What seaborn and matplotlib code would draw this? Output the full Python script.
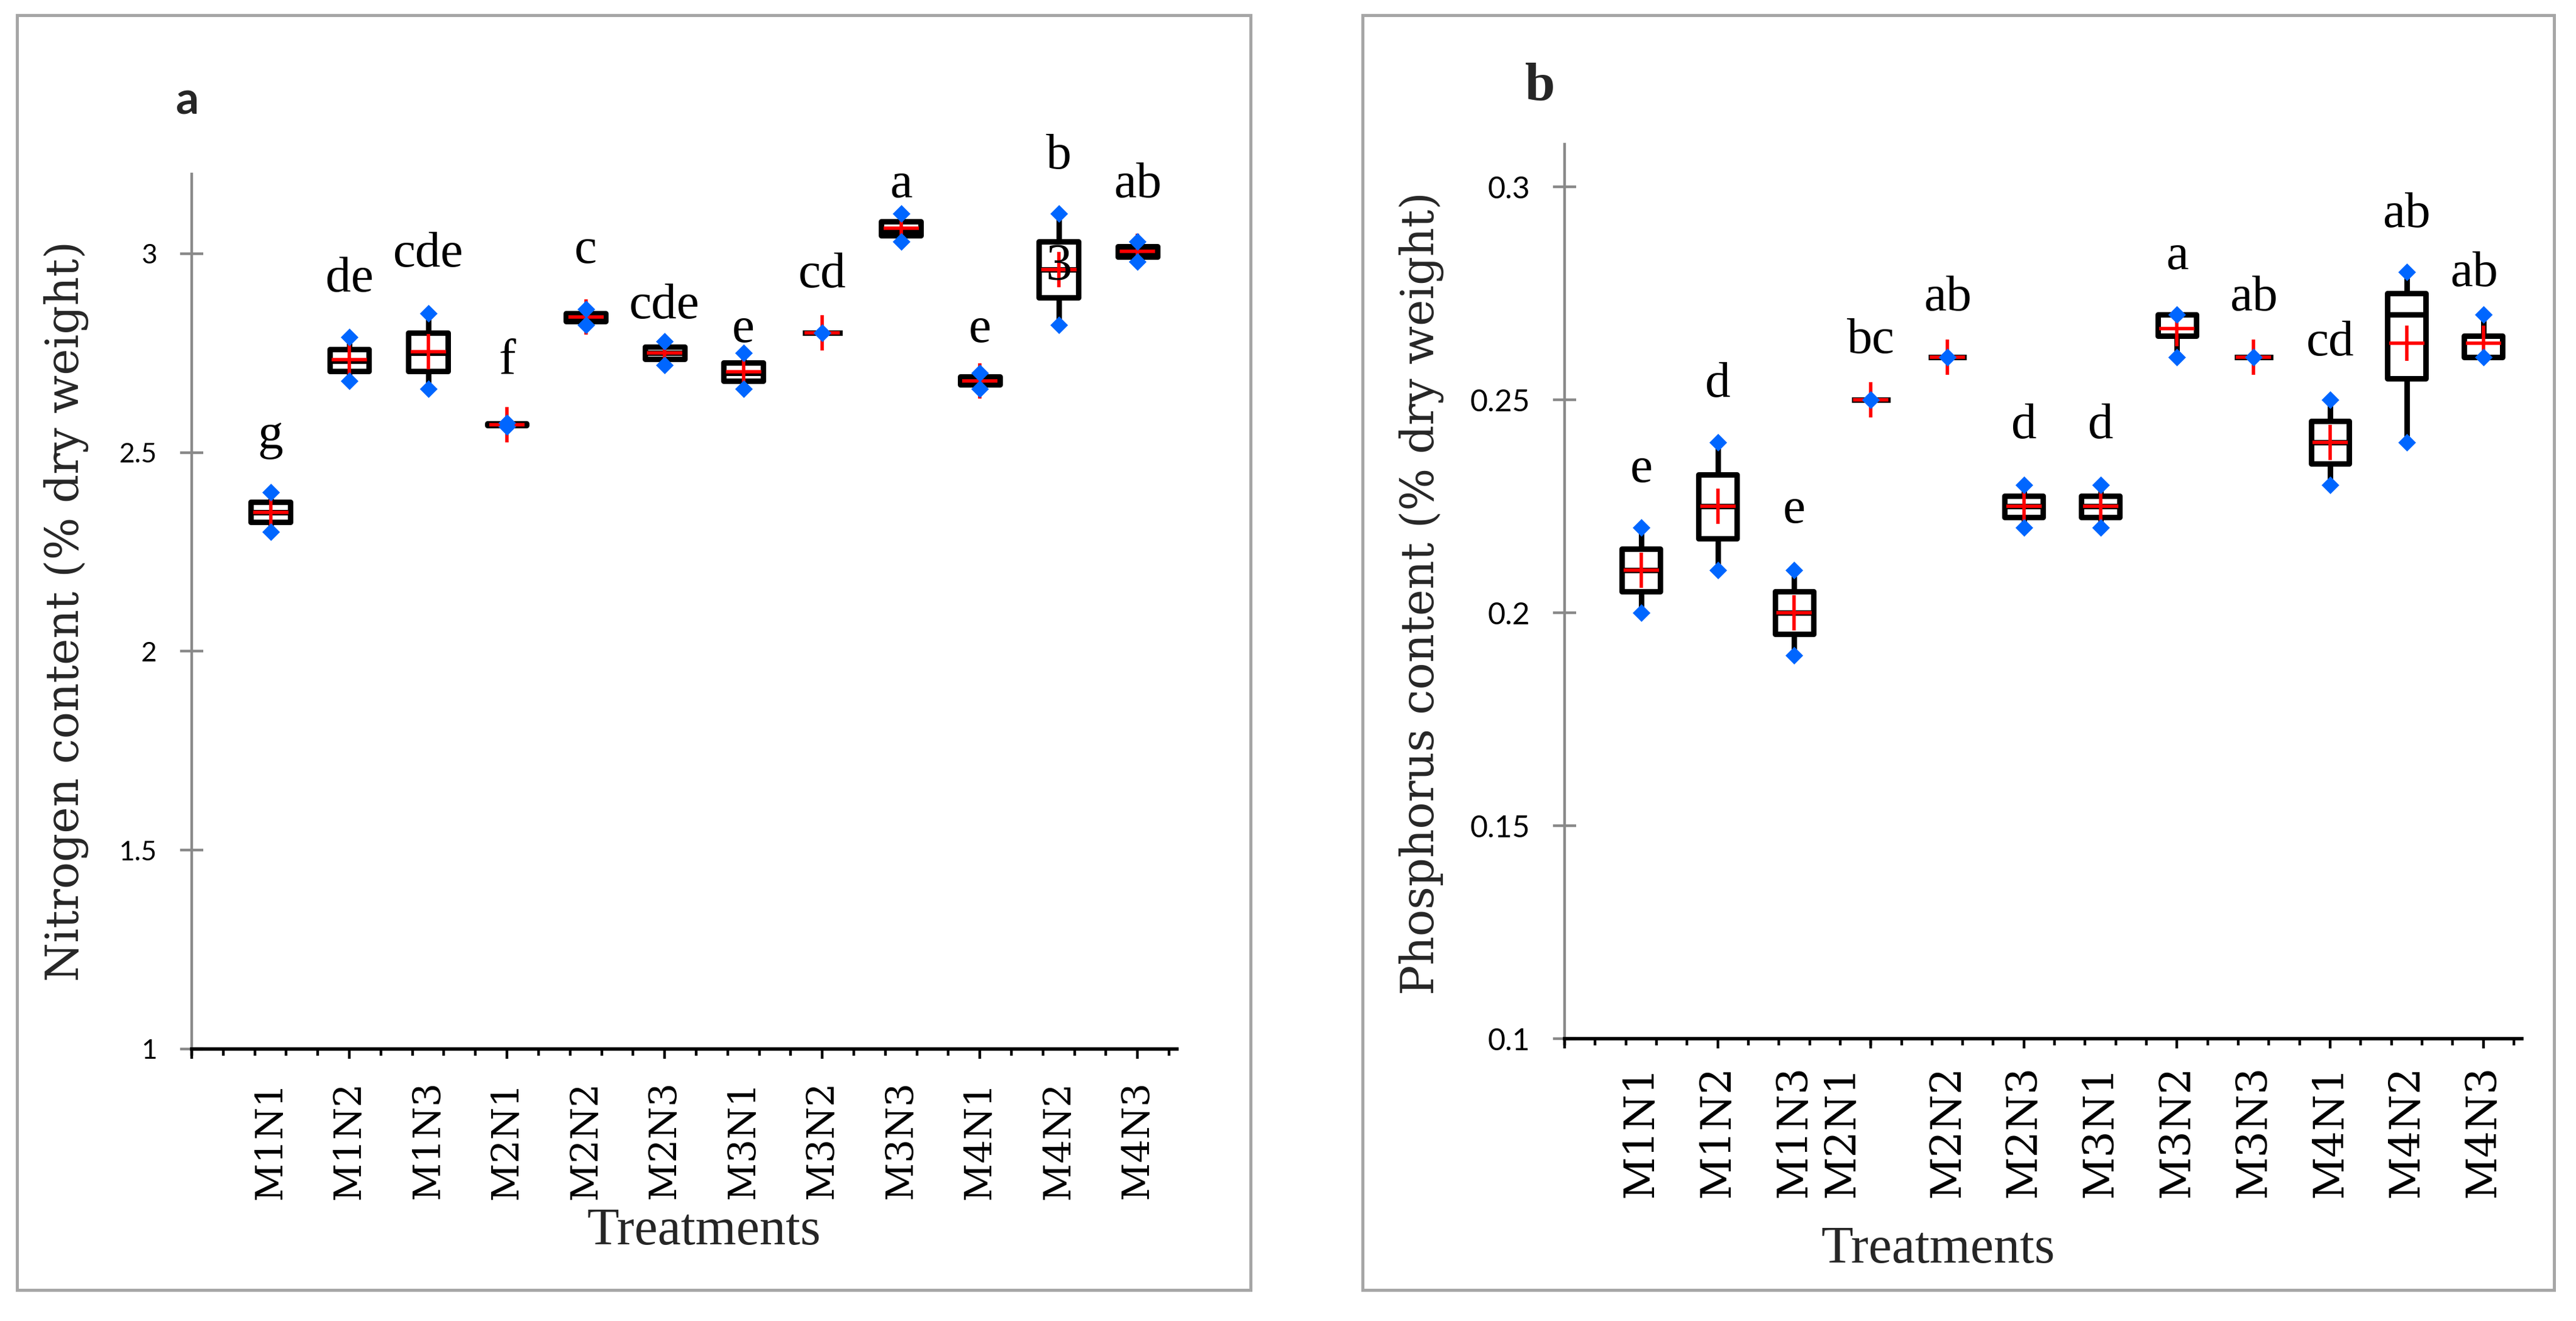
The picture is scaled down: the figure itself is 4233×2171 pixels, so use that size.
import numpy as np
import pandas as pd
import matplotlib
matplotlib.use("Agg")
import matplotlib.pyplot as plt
from matplotlib.patches import Rectangle
import seaborn as sns

# ---------------- data ----------------
treatments = ['M1N1', 'M1N2', 'M1N3', 'M2N1', 'M2N2', 'M2N3',
              'M3N1', 'M3N2', 'M3N3', 'M4N1', 'M4N2', 'M4N3']

# Nitrogen content (% dry weight), three replicates per treatment
nitrogen_rep1 = [2.30, 2.68, 2.66, 2.565, 2.82, 2.72, 2.66, 2.80, 3.03, 2.66, 2.82, 2.98]
nitrogen_rep2 = [2.35, 2.73, 2.75, 2.570, 2.84, 2.75, 2.70, 2.80, 3.06, 2.68, 2.96, 3.005]
nitrogen_rep3 = [2.40, 2.79, 2.85, 2.575, 2.86, 2.78, 2.75, 2.80, 3.10, 2.70, 3.10, 3.03]
nitrogen_letters = ['g', 'de', 'cde', 'f', 'c', 'cde', 'e', 'cd', 'a', 'e', 'b', 'ab']

# Phosphorus content (% dry weight), three replicates per treatment
phosphorus_rep1 = [0.20, 0.21, 0.19, 0.25, 0.26, 0.22, 0.22, 0.26, 0.26, 0.23, 0.24, 0.26]
phosphorus_rep2 = [0.21, 0.225, 0.20, 0.25, 0.26, 0.225, 0.225, 0.27, 0.26, 0.24, 0.27, 0.26]
phosphorus_rep3 = [0.22, 0.24, 0.21, 0.25, 0.26, 0.23, 0.23, 0.27, 0.26, 0.25, 0.28, 0.27]
phosphorus_letters = ['e', 'd', 'e', 'bc', 'ab', 'd', 'd', 'a', 'ab', 'cd', 'ab', 'ab']

nitrogen_yticks = [1, 1.5, 2, 2.5, 3]
nitrogen_yticklabels = ['1', '1.5', '2', '2.5', '3']
phosphorus_yticks = [0.1, 0.15, 0.2, 0.25, 0.3]
phosphorus_yticklabels = ['0.1', '0.15', '0.2', '0.25', '0.3']

# ---------------- layout (positions of annotations / labels) ----------------
nitrogen_letter_x = [0, 1, 2, 3, 4, 5, 6, 7, 8, 9, 10, 11]
nitrogen_letter_y = [2.51, 2.905, 2.968, 2.697, 2.976, 2.837, 2.777, 2.916, 3.142, 2.777, 3.214, 3.142]
phosphorus_letter_x = [0, 1, 2, 3, 4, 5, 6, 7, 8, 9, 10, 10.88]
phosphorus_letter_y = [0.2307, 0.2507, 0.2211, 0.261, 0.271, 0.241, 0.241, 0.2807, 0.271, 0.2604, 0.2906, 0.2767]
nitrogen_tick_x = [0, 1, 2, 3, 4, 5, 6, 7, 8, 9, 10, 11]
phosphorus_tick_x = [0, 1, 2, 2.63, 4, 5, 6, 7, 8, 9, 10, 11]

W, H, DPI = 4233, 2171, 200
BLUE = '#0066ff'
RED = '#ff0000'
AXGRAY = '#898989'
FRAMEGRAY = '#a6a6a6'
SERIF_TXT = ['Liberation Serif', 'DejaVu Serif']
SERIF_WIDE = ['DejaVu Serif']
SANS = ['Lato', 'DejaVu Sans']

sns.set_style('white')
plt.rcParams['font.family'] = ['DejaVu Serif']

fig = plt.figure(figsize=(W / DPI, H / DPI), dpi=DPI)
fig.patch.set_facecolor('white')

# panel frames
for x0, x1 in [(28, 2055), (2239, 4197)]:
    fig.patches.append(Rectangle((x0 / W, 1 - 2120 / H), (x1 - x0) / W, (2120 - 25) / H,
                                 transform=fig.transFigure, fill=False,
                                 edgecolor=FRAMEGRAY, linewidth=1.8, zorder=0))

ax_a = fig.add_axes([315 / W, 1 - 1724 / H, (1934 - 315) / W, (1724 - 286) / H])
ax_b = fig.add_axes([2571 / W, 1 - 1707 / H, (4143.5 - 2571) / W, (1707 - 237) / H])


def draw_panel(ax, r1, r2, r3, ylim, yticks, yticklabels, letters, lx, ly,
               tick_x, xtick_size, xtick_pad, ytick_size):
    df = pd.DataFrame({'Treatment': np.tile(treatments, 3),
                       'Value': np.concatenate([r1, r2, r3])})
    sns.boxplot(data=df, x='Treatment', y='Value', order=treatments,
                whis=(0, 100), width=0.5, color='white', linecolor='black',
                linewidth=3.24, showcaps=False, fliersize=0,
                boxprops=dict(joinstyle='round'),
                showmeans=True,
                meanprops=dict(marker='+', markeredgecolor=RED, markerfacecolor=RED,
                               markersize=21.2, markeredgewidth=2.0),
                ax=ax)
    ext = (df.groupby('Treatment')['Value'].agg(['min', 'max'])
             .reindex(treatments).reset_index()
             .melt(id_vars='Treatment', value_name='Value'))
    sns.stripplot(data=ext, x='Treatment', y='Value', order=treatments,
                  jitter=False, marker='D', color=BLUE, size=7.4, linewidth=0,
                  zorder=6, ax=ax)

    for t, x, y in zip(letters, lx, ly):
        ax.text(x, y, t, ha='center', va='baseline', fontsize=30,
                family=SERIF_TXT, color='black', zorder=7)

    ax.set_xlim(-1, 11.5)
    ax.set_ylim(*ylim)
    ax.set_xlabel('')
    ax.set_ylabel('')

    # y axis
    ax.set_yticks(yticks)
    ax.set_yticklabels(yticklabels, family=SANS, fontsize=ytick_size)
    ax.tick_params(axis='y', which='major', left=True, direction='inout', length=13.7,
                   width=1.6, color=AXGRAY, pad=13.7, labelcolor='black')

    # x axis: category labels (no marks) + small tick marks
    ax.set_xticks(tick_x)
    ax.set_xticklabels(treatments, family=SERIF_WIDE, fontsize=xtick_size, rotation=90)
    ax.tick_params(axis='x', which='major', bottom=True, length=0, pad=xtick_pad,
                   labelcolor='black')
    ax.set_xticks(np.arange(-1, 11.45, 0.4), minor=True)
    ax.tick_params(axis='x', which='minor', bottom=True, direction='out', length=4.0,
                   width=1.6, color='black')
    sec = ax.secondary_xaxis('bottom')
    sec.set_xticks(np.arange(-1, 11.1, 2))
    sec.tick_params(axis='x', which='major', bottom=True, direction='out', length=5.8,
                    width=1.6, color='black', labelbottom=False)
    sec.spines['bottom'].set_visible(False)

    for s in ['top', 'right']:
        ax.spines[s].set_visible(False)
    ax.spines['left'].set_color(AXGRAY)
    ax.spines['left'].set_linewidth(1.6)
    ax.spines['bottom'].set_color('black')
    ax.spines['bottom'].set_linewidth(2.0)
    ax.spines['bottom'].set_zorder(4)
    ax.grid(False)
    ax.set_facecolor('none')


draw_panel(ax_a, nitrogen_rep1, nitrogen_rep2, nitrogen_rep3, (1, 3.2),
           nitrogen_yticks, nitrogen_yticklabels, nitrogen_letters,
           nitrogen_letter_x, nitrogen_letter_y, nitrogen_tick_x, 22, 19, 16)
draw_panel(ax_b, phosphorus_rep1, phosphorus_rep2, phosphorus_rep3, (0.1, 0.31),
           phosphorus_yticks, phosphorus_yticklabels, phosphorus_letters,
           phosphorus_letter_x, phosphorus_letter_y, phosphorus_tick_x, 24.7, 15.5, 18)

# stray "3" over the M4N2 box in panel a
ax_a.text(10, 2.934, '3', ha='center', va='baseline', fontsize=31,
          family=SERIF_TXT, color='black', zorder=3)

# axis titles
fig.text(109 / W, 1 - 1004 / H, 'Nitrogen content (% dry weight)', rotation=90,
         ha='center', va='center', fontsize=26.5, family=SERIF_WIDE)
fig.text(2336 / W, 1 - 975 / H, 'Phosphorus content (% dry weight)', rotation=90,
         ha='center', va='center', fontsize=26.5, family=SERIF_WIDE)
fig.text(1157 / W, 1 - 2045 / H, 'Treatments', ha='center', va='baseline',
         fontsize=31, family=SERIF_TXT)
fig.text(3185 / W, 1 - 2075 / H, 'Treatments', ha='center', va='baseline',
         fontsize=31, family=SERIF_TXT)

# panel letters
fig.text(307 / W, 1 - 188 / H, 'a', ha='center', va='baseline', fontsize=27,
         fontweight='bold', family=SANS)
fig.text(2531 / W, 1 - 165 / H, 'b', ha='center', va='baseline', fontsize=32,
         fontweight='bold', family=SERIF_TXT)

fig.savefig('out.png', dpi=DPI, facecolor='white')
